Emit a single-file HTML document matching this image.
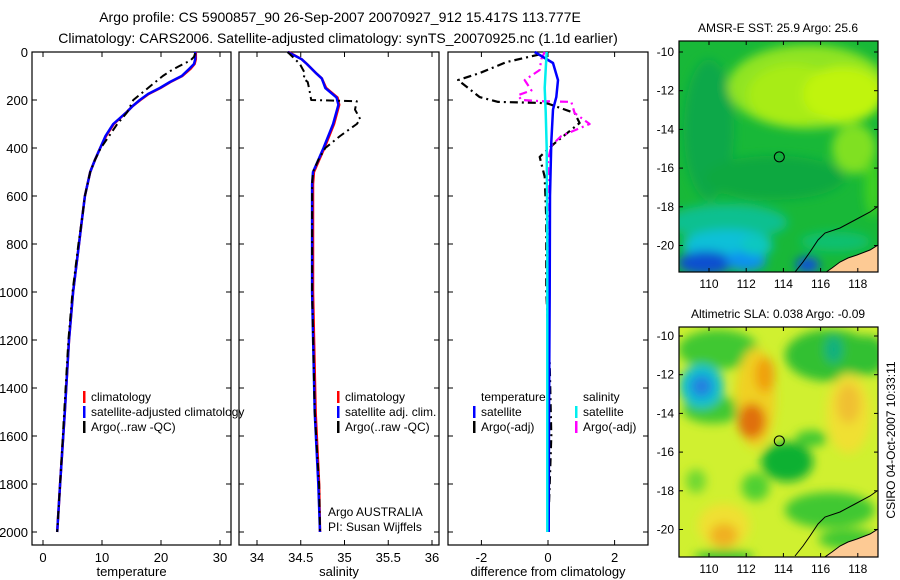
<!DOCTYPE html>
<html><head><meta charset="utf-8"><style>
html,body{margin:0;padding:0;background:#fff;}
svg{display:block;font-family:"Liberation Sans",sans-serif;}
</style></head><body>
<svg id="fig" width="900" height="580" viewBox="0 0 900 580">
<defs>
<filter id="blur8" x="-50%" y="-50%" width="200%" height="200%"><feGaussianBlur stdDeviation="5"/></filter>
<clipPath id="clipA"><rect x="679" y="41" width="199" height="231"/></clipPath>
<clipPath id="clipB"><rect x="679" y="327" width="199" height="230"/></clipPath>
</defs>
<text x="340" y="22" font-size="14" text-anchor="middle">Argo profile: CS 5900857_90 26-Sep-2007 20070927_912 15.417S 113.777E</text>
<text x="338" y="43" font-size="14" text-anchor="middle">Climatology: CARS2006. Satellite-adjusted climatology: synTS_20070925.nc (1.1d earlier)</text>
<g id="plots"></g>
<g id="maps"></g>
<text transform="translate(895,440) rotate(-90)" font-size="12" text-anchor="middle">CSIRO 04-Oct-2007 10:33:11</text>
</svg>
<script>
// ---------- data ----------
const tempDepth = [0,30,50,70,100,125,150,175,200,225,250,300,350,400,450,500,600,700,800,1000,1200,1500,1800,2000];
const tempClim  = [25.9,25.9,25.7,25.0,23.6,21.6,19.9,17.9,16.5,15.2,14.2,12.0,10.7,9.7,8.8,8.0,7.1,6.6,6.1,5.1,4.4,3.7,2.9,2.4];
const tempSat   = [25.8,25.8,25.6,24.8,23.5,21.5,19.8,17.8,16.4,15.2,14.2,11.9,10.6,9.7,8.8,8.0,7.1,6.6,6.1,5.1,4.4,3.7,2.9,2.4];
const argoTDepth = [5,20,35,60,80,100,130,160,200,220,250,300,350,400,450,500,600,700,800,1000,1200,1500,1800,2000];
const argoTemp   = [25.8,25.6,25.0,23.0,21.5,20.3,18.8,17.3,15.3,14.9,14.3,12.6,11.2,9.8,8.8,8.0,7.1,6.6,6.0,5.0,4.3,3.6,2.9,2.4];
const salDepth = [0,30,50,90,110,150,190,220,300,400,450,500,550,800,1000,1500,1800,2000];
const salClim  = [34.36,34.51,34.57,34.68,34.74,34.79,34.92,34.94,34.88,34.77,34.71,34.65,34.64,34.64,34.64,34.67,34.71,34.72];
const salSat   = [34.35,34.51,34.57,34.68,34.74,34.78,34.91,34.93,34.87,34.76,34.70,34.64,34.63,34.63,34.63,34.66,34.70,34.72];
const argoSDepth = [0,25,50,90,110,125,160,200,205,240,280,300,350,400,450,500,550,800,1000,1500,1800,2000];
const argoSal    = [34.35,34.42,34.49,34.55,34.53,34.58,34.60,34.62,35.14,35.12,35.18,35.14,34.95,34.78,34.70,34.64,34.63,34.63,34.63,34.66,34.71,34.72];
const dTSatDepth = [0,46,117,188,240,375,600,1000,1500,2000];
const dTSat      = [-0.4,0.15,0.3,0.25,0.15,0.1,0.06,0.05,0.03,0.02];
const dTArgoDepth = [10,42,88,117,188,208,212,215,254,296,380,437,520,700,1000,1300,1600,1800,2000];
const dTArgo      = [-0.25,-1.25,-2.05,-2.7,-2.05,-1.5,-0.25,0,0.8,0.95,0.2,-0.25,-0.1,-0.05,-0.05,0.05,0.1,0.05,0.0];
const dSSatDepth = [0,50,150,250,400,800,1200,2000];
const dSSat      = [-0.04,-0.06,-0.1,-0.07,-0.04,-0.02,-0.02,-0.02];
const dSArgoDepth = [0,30,75,117,160,180,200,205,208,254,300,350,390,450,800,1200,1600,2000];
const dSArgo      = [-0.1,-0.2,-0.25,-0.7,-0.5,-0.9,-0.8,-0.2,0.7,0.8,1.25,0.4,0.1,0.0,0.05,0.0,0.0,0.0];
const depthTicks = [0,200,400,600,800,1000,1200,1400,1600,1800,2000];
const tempTicks = [0,10,20,30];
const salTicks = [34,34.5,35,35.5,36];
const diffTicks = [-2,0,2];
const lonTicks = [110,112,114,116,118];
const latTicks = [10,12,14,16,18,20];

// ---------- helpers ----------
const NS = "http://www.w3.org/2000/svg";
function mk(tag, attrs, parent){ const e=document.createElementNS(NS,tag); for(const k in attrs) e.setAttribute(k,attrs[k]); parent.appendChild(e); return e; }
const yD = d => 52 + d*0.24;
const plots = document.getElementById('plots');

function panel(name, x0, x1, xs, ticks, label, showY){
  const g = mk('g',{},plots);
  
  
  const fr = mk('rect',{x:x0,y:52,width:x1-x0,height:493,fill:'none',stroke:'#000','stroke-width':1.2},g);
  
  
  depthTicks.forEach(d=>{
    mk('line',{x1:x0,x2:x0+5,y1:yD(d),y2:yD(d),stroke:'#000'},g);
    mk('line',{x1:x1,x2:x1-5,y1:yD(d),y2:yD(d),stroke:'#000'},g);
    if(showY){ const t=mk('text',{x:x0-4,y:yD(d)+5,'font-size':13,'text-anchor':'end'},g); t.textContent=d;
      
       }
  });
  ticks.forEach(v=>{
    const x=xs(v);
    mk('line',{x1:x,x2:x,y1:545,y2:540,stroke:'#000'},g);
    mk('line',{x1:x,x2:x,y1:52,y2:57,stroke:'#000'},g);
    const t=mk('text',{x:x,y:562,'font-size':13,'text-anchor':'middle'},g); t.textContent=v;
    
    
  });
  const xl=mk('text',{x:(x0+x1)/2,y:576,'font-size':13,'text-anchor':'middle'},g); xl.textContent=label;
  
  
  return g;
}
function line(g, depths, vals, xs, color, w, dash, name){
  const p = depths.map((d,i)=>(i?'L':'M')+xs(vals[i]).toFixed(1)+','+yD(d).toFixed(1)).join(' ');
  const e = mk('path',{d:p,fill:'none',stroke:color,'stroke-width':w,'stroke-linejoin':'round'},g);
  if(dash) e.setAttribute('stroke-dasharray',dash);
  
  
}
function legend(g, x, y, items){
  items.forEach((it,i)=>{
    const yy=y+i*15;
    if(it.c) mk('rect',{x:x,y:yy-10,width:2.5,height:12,fill:it.c},g);
    const t=mk('text',{x:x+8,y:yy,'font-size':12},g); t.textContent=it.t;
    
    
  });
}

// temperature panel
const xT = v => 43 + v*5.9;
const gT = panel('temperature', 32, 231, xT, tempTicks, 'temperature', true);
line(gT, tempDepth, tempClim, xT, '#f00', 2.5, null, 'temp-climatology-line');
line(gT, tempDepth, tempSat, xT, '#00f', 2.5, null, 'temp-satellite-line');
line(gT, argoTDepth, argoTemp, xT, '#000', 2, '8,4,2,4', 'temp-argo-line');
legend(gT, 83, 401, [{c:'#f00',t:'climatology'},{c:'#00f',t:'satellite-adjusted climatology'},{c:'#000',t:'Argo(..raw -QC)'}]);

// salinity panel
const xS = v => 257 + (v-34)*87.5;
const gS = panel('salinity', 239, 439, xS, salTicks, 'salinity', false);
line(gS, salDepth, salClim, xS, '#f00', 2.5, null, 'sal-climatology-line');
line(gS, salDepth, salSat, xS, '#00f', 2.5, null, 'sal-satellite-line');
line(gS, argoSDepth, argoSal, xS, '#000', 2, '8,4,2,4', 'sal-argo-line');
legend(gS, 337, 401, [{c:'#f00',t:'climatology'},{c:'#00f',t:'satellite adj. clim.'},{c:'#000',t:'Argo(..raw -QC)'}]);
legend(gS, 320, 516, [{t:'Argo AUSTRALIA'},{t:'PI: Susan Wijffels'}]);

// difference panel
const xDf = v => 548 + v*33.3;
const gD = panel('difference', 448, 648, xDf, diffTicks, 'difference from climatology', false);
line(gD, dTArgoDepth, dTArgo, xDf, '#000', 2.2, '8,4,2,4', 'diff-temp-argo-line');
line(gD, dSArgoDepth, dSArgo, xDf, '#f0f', 2.2, '8,4,2,4', 'diff-sal-argo-line');
line(gD, dTSatDepth, dTSat, xDf, '#00f', 2.5, null, 'diff-temp-satellite-line');
line(gD, dSSatDepth, dSSat, xDf, '#0ee', 2.5, null, 'diff-sal-satellite-line');
legend(gD, 473, 401, [{t:'temperature'},{c:'#00f',t:'satellite'},{c:'#000',t:'Argo(-adj)'}]);
legend(gD, 575, 401, [{t:'salinity'},{c:'#0ee',t:'satellite'},{c:'#f0f',t:'Argo(-adj)'}]);

// ---------- maps ----------
const maps = document.getElementById('maps');
function mapPanel(name, top, lat10, title, base, blobs){
  const g = mk('g',{},maps);
  
  
  const h = (top===41)?231:230;
  const lx = lon => 709 + (lon-110)*18.6;
  const ly = L => lat10 + (L-10)*19.35;
  const inner = mk('g',{'clip-path':'url(#'+(top===41?'clipA':'clipB')+')'},g);
  mk('rect',{x:679,y:top,width:199,height:h,fill:base},inner);
  const bg = mk('g',{filter:'url(#blur8)'},inner);
  blobs.forEach(b=>mk('ellipse',{cx:lx(b[0]),cy:ly(b[1]),rx:b[2],ry:b[3],fill:b[4],opacity:b[5]||1},bg));
  const off = ly(10)-52;
  mk('path',{d:`M877,${207+off} L870,${212+off} L855,${220+off} L840,${228+off} L825,${233+off} L818,${240+off} L810,${252+off} L803,${262+off} L795,${272+off}`,fill:'none',stroke:'#000','stroke-width':1},inner);
  const land = mk('path',{d:`M878,${245+off} L870,${250+off} L857,${255+off} L848,${258+off} L840,${262+off} L832,${268+off} L822,${275+off} L878,${275+off} Z`,fill:'#fdca94',stroke:'#000','stroke-width':1},inner);
  
  
  const c = mk('circle',{cx:lx(113.78),cy:ly(15.42),r:5,fill:'none',stroke:'#000','stroke-width':1},g);
  
  
  mk('rect',{x:679,y:top,width:199,height:h,fill:'none',stroke:'#000','stroke-width':1.2},g);
  lonTicks.forEach(v=>{ const x=lx(v);
    mk('line',{x1:x,x2:x,y1:top+h,y2:top+h-4,stroke:'#000'},g);
    mk('line',{x1:x,x2:x,y1:top,y2:top+4,stroke:'#000'},g);
    const t=mk('text',{x:x,y:top+h+16,'font-size':12,'text-anchor':'middle'},g); t.textContent=v;
    
     });
  latTicks.forEach(v=>{ const y=ly(v);
    mk('line',{x1:679,x2:683,y1:y,y2:y,stroke:'#000'},g);
    mk('line',{x1:878,x2:874,y1:y,y2:y,stroke:'#000'},g);
    const t=mk('text',{x:674,y:y+4,'font-size':12,'text-anchor':'end'},g); t.textContent='-'+v;
    
     });
  const tt=mk('text',{x:778,y:top-9,'font-size':12,'text-anchor':'middle'},g); tt.textContent=title;
  
  
}
mapPanel('sst', 41, 52, 'AMSR-E SST: 25.9 Argo: 25.6', '#18b838', [
  [110,14,25,70,'#10a848'],[115.3,11.8,80,42,'#90e420'],[114.5,12.2,45,30,'#a8ec18'],[117.2,12.2,40,28,'#c0f410'],
  [117.8,15,22,25,'#80e020'],[118.8,17,8,30,'#40d020'],
  [113.5,16.5,70,22,'#10a840'],[111,18.8,60,18,'#10c090'],[111,20,45,16,'#10c0d8'],[109.8,20.9,28,12,'#1050d0'],
  [112,20.8,20,10,'#1090f0'],[115.3,21,12,8,'#1050d8'],[116.8,19.8,35,10,'#10c070'],[112.5,20,15,10,'#10c8c0']]);
mapPanel('sla', 327, 336, 'Altimetric SLA: 0.038 Argo: -0.09', '#d0f030', [
  [110.5,10.7,40,20,'#40c830'],[110.2,13.8,30,14,'#40c830'],[116.5,11,45,26,'#30c030'],[118.5,11,20,20,'#30c030'],
  [116.7,10.7,9,14,'#10b080'],
  [109.6,12.6,22,22,'#10c0d0'],[109.6,12.6,11,11,'#2080e0'],
  [112.5,13.2,20,50,'#f0d020'],[112.3,14.4,14,18,'#e07010'],[113,12,10,18,'#f0a010'],
  [117.5,14,22,40,'#f0e030'],[117.5,13.5,12,20,'#f0c030'],
  [114.2,16.5,26,20,'#10b030'],[115.5,15.3,16,8,'#40c830'],
  [110.8,19.8,26,22,'#f0e030'],[110.8,20.3,14,12,'#f0b020'],[110.8,21.4,30,6,'#30c030'],
  [112.5,17.8,14,14,'#50d030'],[116.5,19,45,18,'#40c830'],[109.3,17.5,10,12,'#70d830'],[117.5,20.5,30,10,'#40c830']]);
</script>
</body></html>
